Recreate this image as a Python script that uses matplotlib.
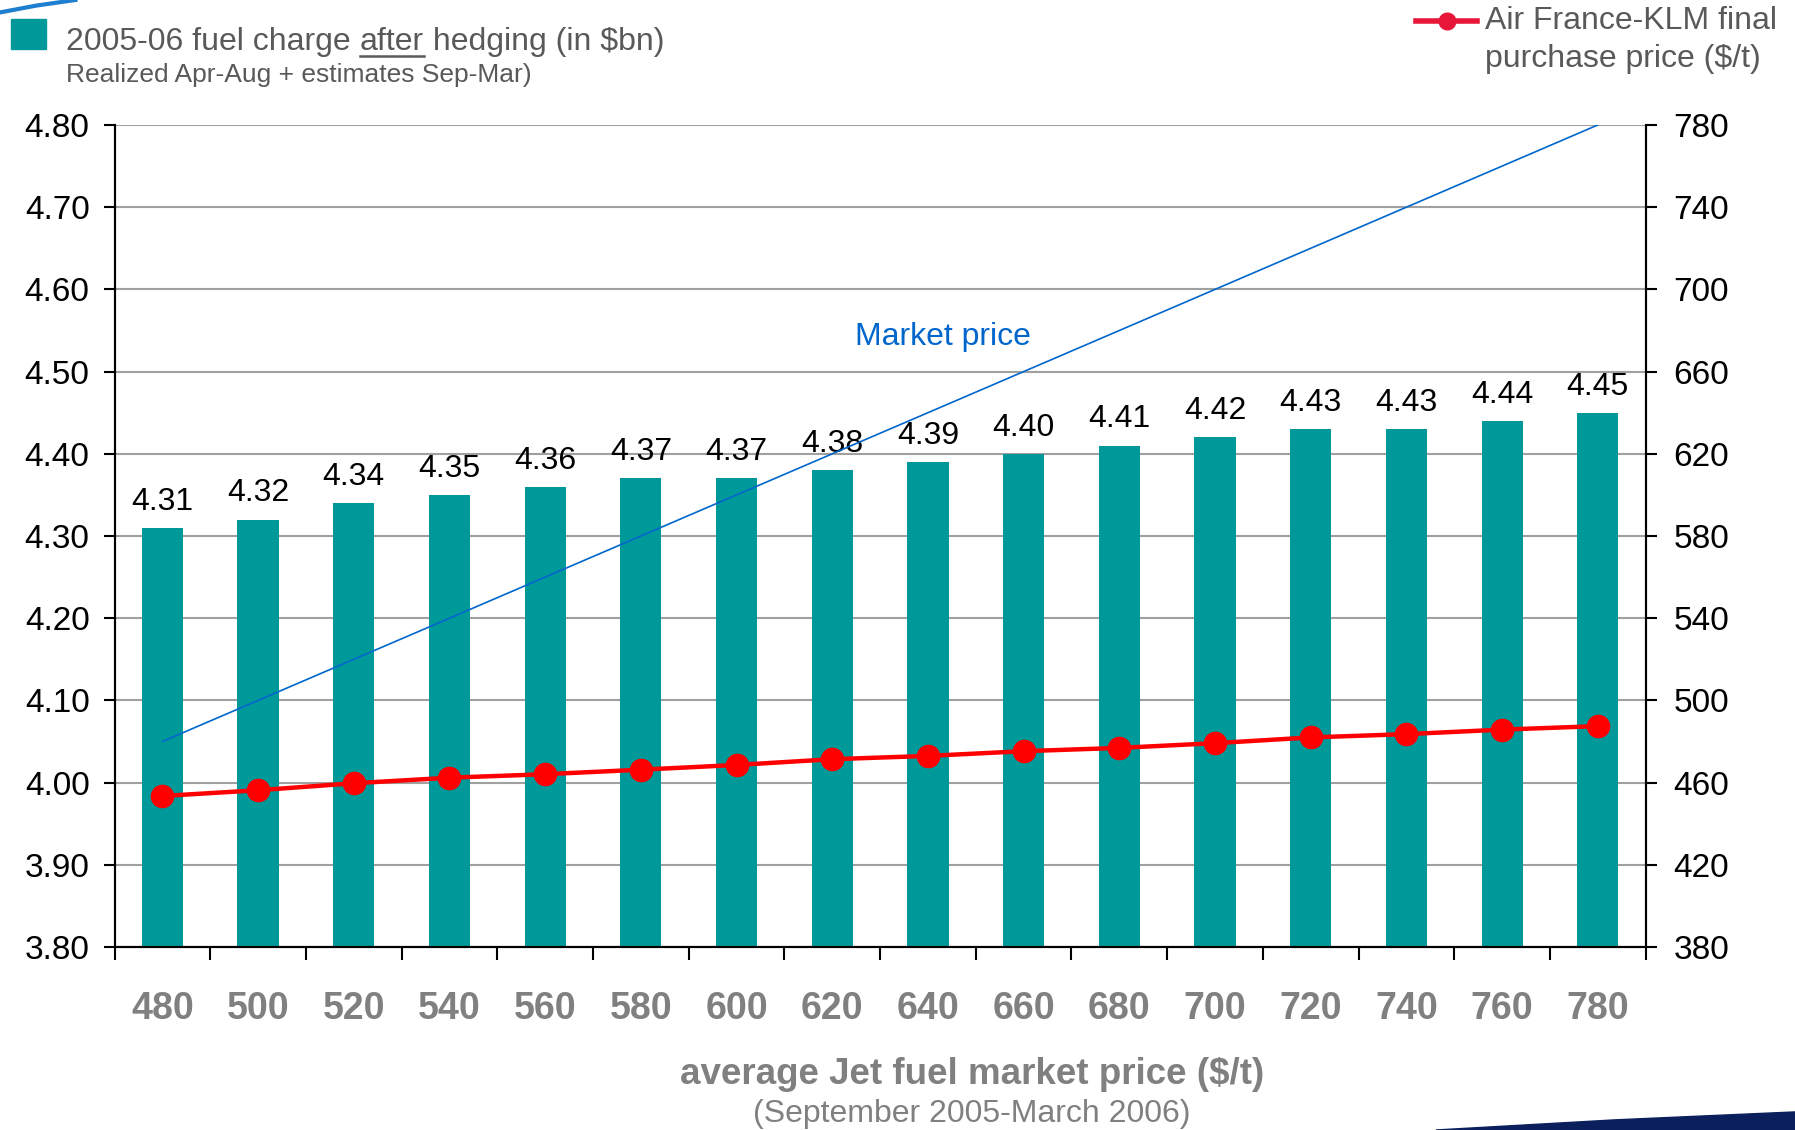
import matplotlib
matplotlib.use("Agg")
import matplotlib.pyplot as plt
from matplotlib.patches import Polygon
from matplotlib.lines import Line2D
import numpy as np

plt.rcParams['font.family'] = ['Liberation Sans', 'DejaVu Sans']

# data
market_price = [480, 500, 520, 540, 560, 580, 600, 620, 640, 660, 680, 700, 720, 740, 760, 780]
fuel_charge = [4.31, 4.32, 4.34, 4.35, 4.36, 4.37, 4.37, 4.38, 4.39, 4.40, 4.41, 4.42, 4.43, 4.43, 4.44, 4.45]
afklm_price = [453.5, 456.3, 459.7, 462.4, 464.1, 466.3, 468.6, 471.4, 473.0, 475.3, 476.9, 479.2, 482.0, 483.6, 485.8, 487.5]
left_ticks = [3.80, 3.90, 4.00, 4.10, 4.20, 4.30, 4.40, 4.50, 4.60, 4.70, 4.80]
right_ticks = [380, 420, 460, 500, 540, 580, 620, 660, 700, 740, 780]

teal = '#009999'
red = '#FF0000'
blue = '#0066CC'
grey_txt = '#595959'

fig = plt.figure(figsize=(17.95, 11.30), dpi=100)
ax = fig.add_axes([0.0638, 0.1619, 0.853, 0.7275])
ax2 = ax.twinx()

x = np.arange(len(market_price))

ax.bar(x, fuel_charge, width=0.43, color=teal, zorder=2)
for xi, v in zip(x, fuel_charge):
    ax.annotate(f'{v:.2f}', (xi, v), xytext=(0, 8), textcoords='offset points',
                ha='center', va='bottom', fontsize=23, color='black')

ax.set_ylim(3.80, 4.80)
ax.set_yticks(left_ticks)
ax.set_yticklabels([f'{t:.2f}' for t in left_ticks])
ax.yaxis.grid(True, color='#A0A0A0', lw=1.5, zorder=0)
ax.set_axisbelow(True)
ax.set_xlim(-0.5, len(x) - 0.5)
ax.set_xticks(x)
ax.set_xticklabels([str(m) for m in market_price], fontsize=27, fontweight='bold', color='#808080')
ax.set_xticks(np.arange(-0.5, len(x)), minor=True)
ax.tick_params(axis='x', which='major', length=0, pad=32)
ax.tick_params(axis='x', which='minor', length=9, width=1.5, direction='out')
ax.tick_params(axis='y', labelsize=24, length=8, width=1.5, pad=10)

ax2.plot(x, market_price, color=blue, lw=1.2, zorder=3)
ax2.plot(x, afklm_price, color=red, lw=3.2, marker='o', markersize=16, zorder=4)
ax2.set_ylim(380, 780)
ax2.set_yticks(right_ticks)
ax2.tick_params(axis='y', labelsize=24, length=8, width=1.5, pad=12)
ax2.text(8.16, 677, 'Market price', color=blue, fontsize=23, ha='center', va='center')

for a in (ax, ax2):
    a.spines['top'].set_visible(False)
    for s in ('left', 'right', 'bottom'):
        a.spines[s].set_linewidth(1.5)
        a.spines[s].set_color('black')

# axis title below
fig.text(0.5416, 0.049, 'average Jet fuel market price ($/t)', ha='center', va='center',
         fontsize=26.5, fontweight='bold', color='#808080')
fig.text(0.5416, 0.014, '(September 2005-March 2006)', ha='center', va='center',
         fontsize=23, color='#808080')

# top-left legend
fig.patches.append(Polygon([(0.0061, 0.957), (0.0256, 0.957), (0.0256, 0.983), (0.0061, 0.983)],
                           closed=True, transform=fig.transFigure, color=teal))
t1 = fig.text(0.0368, 0.963, '2005-06 fuel charge ', fontsize=23, color=grey_txt, va='center')
t2 = ax.annotate('after', xy=(1, 0), xycoords=t1, va='bottom', fontsize=23, color=grey_txt,
                 annotation_clip=False)
t3 = ax.annotate(' hedging (in $bn)', xy=(1, 0), xycoords=t2, va='bottom', fontsize=23,
                 color=grey_txt, annotation_clip=False)
fig.text(0.0368, 0.934, 'Realized Apr-Aug + estimates Sep-Mar)', fontsize=19, color=grey_txt, va='center')

# top-right legend
fig.lines.append(Line2D([0.789, 0.823], [0.9815, 0.9815], transform=fig.transFigure,
                        color='#E8173A', lw=4))
fig.lines.append(Line2D([0.806], [0.9815], transform=fig.transFigure,
                        color='#E8173A', marker='o', markersize=12, lw=0))
fig.text(0.8275, 0.981, 'Air France-KLM final', fontsize=23, color=grey_txt, va='center')
fig.text(0.8275, 0.948, 'purchase price ($/t)', fontsize=23, color=grey_txt, va='center')

# decorative swooshes
fig.patches.append(Polygon([(0.80, 0.0), (0.90, 0.009), (1.0, 0.016), (1.0, 0.0)],
                           closed=True, transform=fig.transFigure, color='#0A1F5C'))
fig.lines.append(Line2D([0.0, 0.02, 0.042], [0.989, 0.995, 1.0], transform=fig.transFigure,
                        color='#1E7FD0', lw=3))

# underline "after"
fig.canvas.draw()
bb = t2.get_window_extent()
fig.lines.append(Line2D([bb.x0, bb.x1], [bb.y0 + 1, bb.y0 + 1], transform=None,
                        color=grey_txt, lw=1.8))

fig.savefig('out.png', dpi=100)
